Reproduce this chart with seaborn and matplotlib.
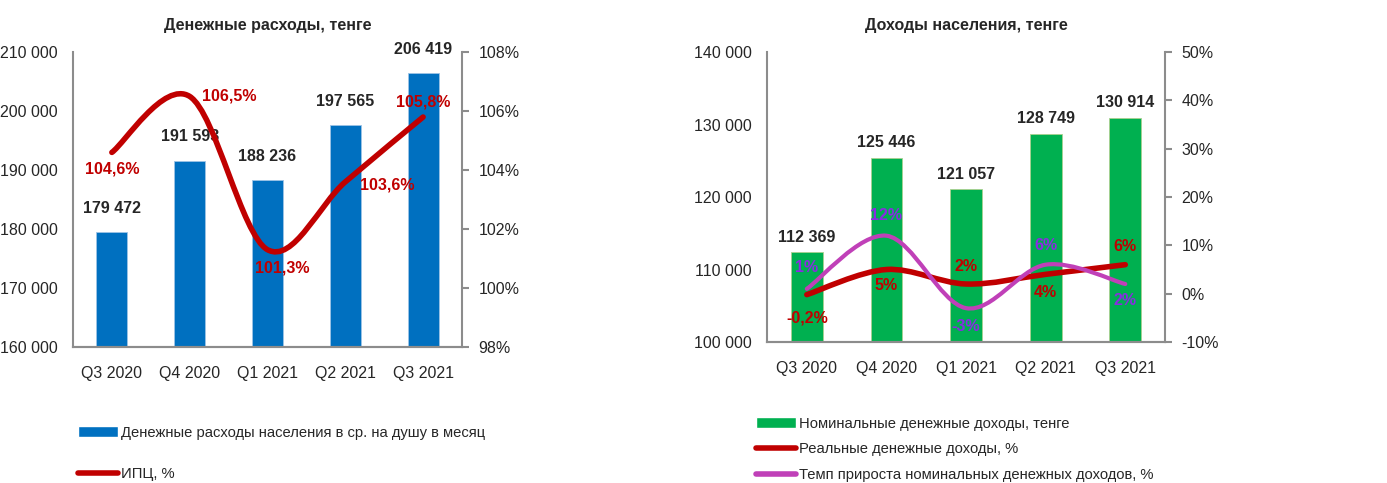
import numpy as np
import matplotlib.pyplot as plt
import seaborn as sns
from matplotlib.path import Path
from matplotlib.patches import PathPatch
from matplotlib.lines import Line2D
from matplotlib.patches import Patch
from matplotlib.ticker import FuncFormatter, MultipleLocator

quarters = ['Q3 2020', 'Q4 2020', 'Q1 2021', 'Q2 2021', 'Q3 2021']

# левый график
expenses = [179472, 191593, 188236, 197565, 206419]
cpi = [104.6, 106.5, 101.3, 103.6, 105.8]
cpi_labels = ['104,6%', '106,5%', '101,3%', '103,6%', '105,8%']

# правый график
income = [112369, 125446, 121057, 128749, 130914]
real_income = [-0.2, 5, 2, 4, 6]
real_labels = ['-0,2%', '5%', '2%', '4%', '6%']
nominal_growth = [1, 12, -3, 6, 2]
nominal_labels = ['1%', '12%', '-3%', '6%', '2%']

BLUE = '#0070C0'
GREEN = '#00B050'
RED = '#C00000'
PINK = '#C040B8'
VIOLET = '#8A2BE2'
GRAY = '#8C8C8C'

FS = 11.5      # подписи осей и данных
LEG_FS = 10.6  # легенда

sns.set_style('white')
plt.rcParams['font.family'] = ['Liberation Sans', 'DejaVu Sans']
plt.rcParams['font.size'] = FS


def smooth_path(y):
    # сглаженная линия как в Excel (кривые Безье по Катмуллу-Рому)
    pts = np.column_stack([np.arange(len(y)), y]).astype(float)
    ext = np.vstack([pts[0], pts, pts[-1]])
    verts = [pts[0]]
    codes = [Path.MOVETO]
    for i in range(len(pts) - 1):
        p0, p1, p2, p3 = ext[i], ext[i + 1], ext[i + 2], ext[i + 3]
        verts += [p1 + (p2 - p0) / 6, p2 - (p3 - p1) / 6, p2]
        codes += [Path.CURVE4] * 3
    return Path(verts, codes)


def style_axes(ax, ax2):
    for a in (ax, ax2):
        a.spines['top'].set_visible(False)
        for s in ('left', 'right', 'bottom'):
            a.spines[s].set_color(GRAY)
            a.spines[s].set_linewidth(1.5)
    ax.spines['right'].set_visible(False)
    ax2.spines['left'].set_visible(False)
    ax.tick_params(axis='y', length=0, pad=11, labelsize=FS)
    ax.tick_params(axis='x', length=0, pad=14, labelsize=FS)
    ax2.tick_params(axis='y', length=5, width=1.5, color=GRAY, pad=7, labelsize=FS)
    ax.yaxis.set_major_formatter(FuncFormatter(lambda v, p: f'{v:,.0f}'.replace(',', ' ')))
    ax2.yaxis.set_major_formatter(FuncFormatter(lambda v, p: f'{v:.0f}%'))
    ax.set_xlabel('')
    ax.set_ylabel('')


fig = plt.figure(figsize=(13.87, 4.83), dpi=100)

# ---- Денежные расходы ----
ax1 = fig.add_axes([0.0526, 0.2816, 0.2805, 0.6104])
sns.barplot(x=quarters, y=expenses, color=BLUE, width=0.4, saturation=1,
            edgecolor='#9DC3E6', linewidth=0.6, ax=ax1)
ax1.set_ylim(160000, 210000)
ax1.yaxis.set_major_locator(MultipleLocator(10000))
ax1.set_title('Денежные расходы, тенге', fontweight='bold', fontsize=FS, pad=16)
for i, v in enumerate(expenses):
    ax1.annotate(f'{v:,.0f}'.replace(',', ' '), (i, v), xytext=(0, 24),
                 textcoords='offset pixels', ha='center', va='center',
                 fontweight='bold', fontsize=FS)

ax1b = ax1.twinx()
ax1b.set_ylim(98, 108)
ax1b.yaxis.set_major_locator(MultipleLocator(2))
ax1b.add_patch(PathPatch(smooth_path(cpi), facecolor='none', edgecolor=RED,
                         lw=4, capstyle='round', joinstyle='round'))
cpi_offsets = [(0, -17), (40, 0), (15, -18), (42, -3), (0, 15)]
for i, (v, t) in enumerate(zip(cpi, cpi_labels)):
    ax1b.annotate(t, (i, v), xytext=cpi_offsets[i], textcoords='offset pixels',
                  ha='center', va='center', fontweight='bold', color=RED,
                  fontsize=FS)
style_axes(ax1, ax1b)

fig.legend(handles=[Patch(facecolor=BLUE, label='Денежные расходы населения в ср. на душу в месяц'),
                    Line2D([], [], color=RED, lw=4, label='ИПЦ, %')],
           loc='upper left', bbox_to_anchor=(78 / 1387, 1 - 426 / 483),
           frameon=False, fontsize=LEG_FS, handlelength=2.7, handleheight=0.75,
           handletextpad=0.25, labelspacing=1.85, borderaxespad=0, borderpad=0)

# ---- Доходы населения ----
ax2 = fig.add_axes([0.553, 0.292, 0.287, 0.600])
sns.barplot(x=quarters, y=income, color=GREEN, width=0.4, saturation=1,
            edgecolor='#A9D18E', linewidth=0.6, ax=ax2)
ax2.set_ylim(100000, 140000)
ax2.yaxis.set_major_locator(MultipleLocator(10000))
ax2.set_title('Доходы населения, тенге', fontweight='bold', fontsize=FS, pad=16)
for i, v in enumerate(income):
    ax2.annotate(f'{v:,.0f}'.replace(',', ' '), (i, v), xytext=(0, 15),
                 textcoords='offset pixels', ha='center', va='center',
                 fontweight='bold', fontsize=FS)

ax2b = ax2.twinx()
ax2b.set_ylim(-10, 50)
ax2b.yaxis.set_major_locator(MultipleLocator(10))
ax2b.add_patch(PathPatch(smooth_path(real_income), facecolor='none', edgecolor=RED,
                         lw=4, capstyle='round', joinstyle='round'))
ax2b.add_patch(PathPatch(smooth_path(nominal_growth), facecolor='none', edgecolor=PINK,
                         lw=3, capstyle='round', joinstyle='round'))
real_offsets = [(0, -23), (0, -16), (0, 18), (0, -18), (0, 18)]
nominal_offsets = [(0, 21), (0, 20), (0, -18), (0, 19), (0, -16)]
for i, (v, t) in enumerate(zip(real_income, real_labels)):
    ax2b.annotate(t, (i, v), xytext=real_offsets[i], textcoords='offset pixels',
                  ha='center', va='center', fontweight='bold', color=RED,
                  fontsize=FS)
for i, (v, t) in enumerate(zip(nominal_growth, nominal_labels)):
    ax2b.annotate(t, (i, v), xytext=nominal_offsets[i], textcoords='offset pixels',
                  ha='center', va='center', fontweight='bold', color=VIOLET,
                  fontsize=FS)
style_axes(ax2, ax2b)

fig.legend(handles=[Patch(facecolor=GREEN, label='Номинальные денежные доходы, тенге'),
                    Line2D([], [], color=RED, lw=4, label='Реальные денежные доходы, %'),
                    Line2D([], [], color=PINK, lw=4, label='Темп прироста номинальных денежных доходов, %')],
           loc='upper left', bbox_to_anchor=(756 / 1387, 1 - 417 / 483),
           frameon=False, fontsize=LEG_FS, handlelength=2.7, handleheight=0.75,
           handletextpad=0.25, labelspacing=0.78, borderaxespad=0, borderpad=0)

fig.savefig('out.png', dpi=100)
